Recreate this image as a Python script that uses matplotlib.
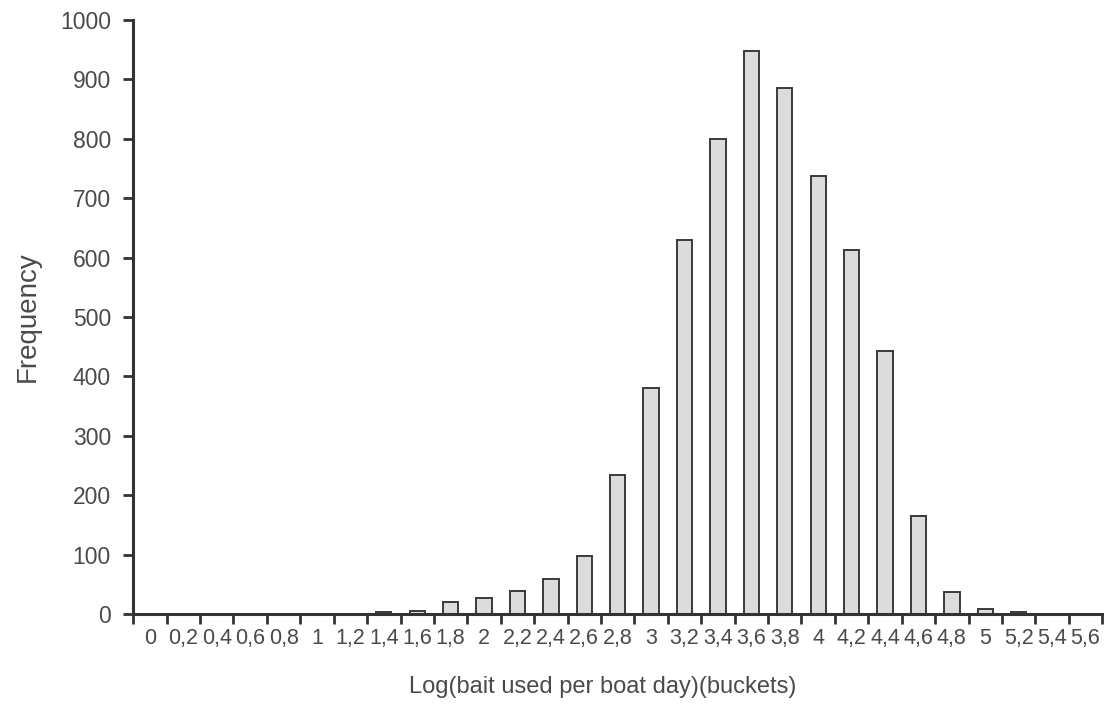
import matplotlib.pyplot as plt
import numpy as np

# Bin labels (log of bait used) and frequencies
bin_labels = ['0', '0,2', '0,4', '0,6', '0,8', '1', '1,2', '1,4', '1,6', '1,8',
              '2', '2,2', '2,4', '2,6', '2,8', '3', '3,2', '3,4', '3,6', '3,8',
              '4', '4,2', '4,4', '4,6', '4,8', '5', '5,2', '5,4', '5,6']
frequency = [0, 0, 0, 0, 0, 0, 0, 3, 5, 20,
             27, 39, 59, 97, 234, 380, 629, 800, 948, 886,
             738, 613, 442, 165, 37, 8, 3, 0, 0]
y_ticks = [0, 100, 200, 300, 400, 500, 600, 700, 800, 900, 1000]

plt.rcParams['font.family'] = ['Liberation Sans', 'DejaVu Sans']
text_color = '#4a4a4a'
axis_color = '#333333'

fig = plt.figure(figsize=(11.1, 7.09), dpi=100)
ax = fig.add_axes([0.12, 0.134, 0.873, 0.838])

x = np.arange(len(bin_labels))
ax.bar(x, frequency, width=0.46, color='#dcdcdc', edgecolor='#3a3a3a',
       linewidth=1.4, zorder=2)

ax.set_xlim(-0.5, len(bin_labels) - 0.5)
ax.set_ylim(0, 1000)

# major ticks on bin edges, labels centred under each bar
ax.set_xticks(np.arange(len(bin_labels) + 1) - 0.5)
ax.set_xticklabels([])
ax.set_xticks(x, minor=True)
ax.set_xticklabels(bin_labels, minor=True, fontsize=15.5, color=text_color)
ax.tick_params(axis='x', which='minor', length=0, pad=10)
ax.tick_params(axis='x', which='major', length=7, width=2, color=axis_color)

ax.set_yticks(y_ticks)
ax.set_yticklabels([str(v) for v in y_ticks], fontsize=16.5, color=text_color)
ax.tick_params(axis='y', length=7, width=2, color=axis_color, pad=9)

for side in ['top', 'right']:
    ax.spines[side].set_visible(False)
for side in ['left', 'bottom']:
    ax.spines[side].set_color(axis_color)
    ax.spines[side].set_linewidth(2.2)

ax.set_xlabel('Log(bait used per boat day)(buckets)', fontsize=17,
              color=text_color)
ax.xaxis.set_label_coords(0.485, -0.105)
ax.set_ylabel('Frequency', fontsize=20, color=text_color, labelpad=14)

fig.savefig('out.png', dpi=100)
